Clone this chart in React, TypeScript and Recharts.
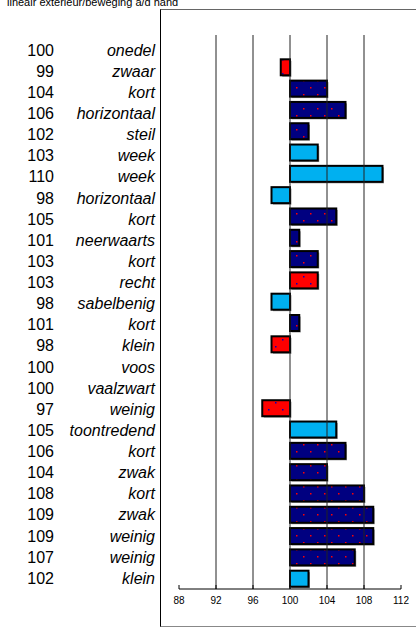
import { Bar, BarChart, ReferenceLine, XAxis, YAxis } from "recharts"

const labels = [
  "onedel", "zwaar", "kort", "horizontaal", "steil", "week", "week", "horizontaal",
  "kort", "neerwaarts", "kort", "recht", "sabelbenig", "kort", "klein", "voos",
  "vaalzwart", "weinig", "toontredend", "kort", "zwak", "kort", "zwak", "weinig",
  "weinig", "klein",
]
const scores = [
  100, 99, 104, 106, 102, 103, 110, 98, 105, 101, 103, 103, 98, 101, 98, 100,
  100, 97, 105, 106, 104, 108, 109, 109, 107, 102,
]
// n = navy with red dots, r = red with blue dots, b = light blue
const groups = [
  "n", "r", "n", "n", "n", "b", "b", "b", "n", "n", "n", "r", "b", "n", "r", "n",
  "n", "r", "b", "n", "n", "n", "n", "n", "n", "b",
]
const xTicks = [88, 92, 96, 100, 104, 108, 112]
const gridTicks = [92, 96, 100, 104, 108]
const title = "lineair exterieur/beweging a/d hand"

const FONT = "Arial, 'Liberation Sans', sans-serif"

const data = labels.map((label, i) => ({
  idx: i,
  label,
  score: scores[i],
  group: groups[i],
  range: [Math.min(scores[i], 100), Math.max(scores[i], 100)],
}))

const fills: any = { n: "url(#navyDots)", r: "url(#redDots)", b: "#00B0F0" }

const BarShape = (props: any) => {
  const { x, y, width, height, payload } = props
  if (!width || width <= 0) return null
  return (
    <g>
      <rect x={x + 1.5} y={y + 1.5} width={width} height={height} fill="#999" />
      <rect x={x} y={y} width={width} height={height} fill={fills[payload.group]} stroke="#000" strokeWidth={2} />
    </g>
  )
}

// the label column runs at a slightly tighter pitch than the bars
const LeftTick = (props: any) => {
  const { y, payload } = props
  const row = data[payload.value]
  const ty = y + 4.4 - payload.value * 0.18
  return (
    <g fontFamily={FONT} fontSize={16} fill="#000">
      <text x={54} y={ty} dy="0.35em" textAnchor="end" fill="#000">{row.score}</text>
      <text x={155} y={ty} dy="0.35em" textAnchor="end" fontStyle="italic" fill="#000">{row.label}</text>
    </g>
  )
}

const BottomTick = (props: any) => {
  const { x, y, payload } = props
  return (
    <g>
      <line x1={x} x2={x} y1={589} y2={585} stroke="#000" />
      <text x={x} y={y + 15} textAnchor="middle" fontFamily={FONT} fontSize={10} fill="#000">{payload.value}</text>
    </g>
  )
}

export default function App() {
  return (
    <div style={{ position: "absolute", left: 0, top: 0, width: 416, height: 628, overflow: "hidden", background: "#fff" }}>
      <div style={{ position: "absolute", left: 7, top: -3, fontFamily: FONT, fontSize: 11, lineHeight: "11px", whiteSpace: "nowrap" }}>
        {title}
      </div>
      <div
        style={{
          position: "absolute", left: 160, top: 9, width: 300, height: 616,
          borderLeft: "1px solid #000", borderTop: "1px solid #666", borderBottom: "1px solid #888",
        }}
      />
      <div style={{ position: "absolute", left: 0, top: 0 }}>
        <BarChart
          width={416}
          height={628}
          data={data}
          layout="vertical"
          margin={{ top: 35, right: 15, bottom: 9, left: 0 }}
          barSize={16}
        >
          <defs>
            <pattern id="navyDots" patternUnits="userSpaceOnUse" width={14} height={14}>
              <rect width={14} height={14} fill="#000080" />
              <rect x={2} y={3} width={1.5} height={1.5} fill="#ff0000" />
              <rect x={9} y={10} width={1.5} height={1.5} fill="#ff0000" />
            </pattern>
            <pattern id="redDots" patternUnits="userSpaceOnUse" width={14} height={14}>
              <rect width={14} height={14} fill="#ff0000" />
              <rect x={2} y={3} width={1.5} height={1.5} fill="#0000c0" />
              <rect x={9} y={10} width={1.5} height={1.5} fill="#0000c0" />
            </pattern>
          </defs>
          <XAxis
            type="number"
            domain={[88, 112]}
            ticks={xTicks}
            interval={0}
            tickSize={0}
            tickMargin={0}
            tickLine={false}
            axisLine={{ stroke: "#000" }}
            tick={<BottomTick />}
            height={30}
          />
          <YAxis
            type="category"
            dataKey="idx"
            width={179}
            axisLine={false}
            tickLine={false}
            interval={0}
            tick={<LeftTick />}
          />
          {gridTicks.map((t) => (
            <ReferenceLine key={t} x={t} stroke="#222" strokeWidth={1} />
          ))}
          <Bar dataKey="range" shape={<BarShape />} isAnimationActive={false} />
        </BarChart>
      </div>
    </div>
  )
}
